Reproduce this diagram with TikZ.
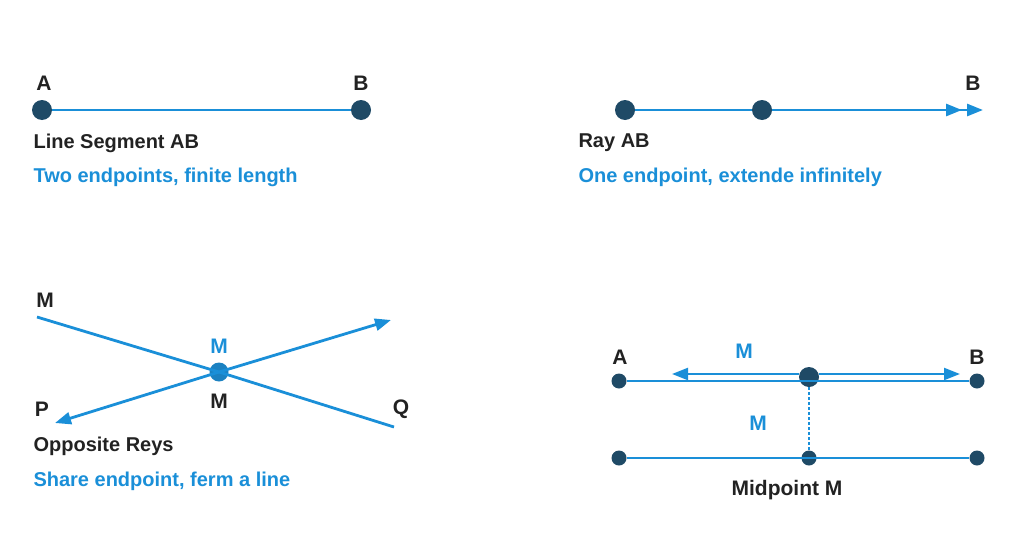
\documentclass[tikz,border=0pt]{standalone}
\usepackage{fontspec}
\setmainfont{Liberation Sans}
\usetikzlibrary{arrows.meta}
\definecolor{lb}{HTML}{1A8FD8}
\definecolor{dk}{HTML}{1F4A66}
\definecolor{tx}{HTML}{222222}
\tikzset{
 seg/.style={lb,line width=2.8pt},
 dot/.style={circle,fill=dk,inner sep=0pt,minimum size=20pt},
 sdot/.style={circle,fill=dk,inner sep=0pt,minimum size=15pt},
 lab/.style={font=\fontsize{21}{24}\selectfont\bfseries,text=tx},
 blab/.style={font=\fontsize{21}{24}\selectfont\bfseries,text=lb},
 captxt/.style={font=\fontsize{20}{24}\selectfont\bfseries,text=tx,anchor=west},
 bcaptxt/.style={font=\fontsize{20}{24}\selectfont\bfseries,text=lb,anchor=west},
 arr/.style={-{Triangle[length=16pt,width=12pt]}},
}
\begin{document}
\begin{tikzpicture}[x=1pt,y=-1pt]
\useasboundingbox (0,0) rectangle (1024,554);
% top left
\node[dot] (a1) at (42,110) {};
\node[dot] (b1) at (361,110) {};
\draw[seg] (a1) -- (b1);
\node[lab] (la1) at (44,83) {A};
\node[lab] (lb1) at (361,83) {B};
\node[captxt] (c1) at (30,143) {Line Segment AB};
\node[bcaptxt] (d1) at (30,177) {Two endpoints, finite length};
% top right
\node[dot] (a2) at (625,110) {};
\node[dot] (b2) at (762,110) {};
\coordinate (e2) at (983,110);
\coordinate (m2) at (962,110);
\draw[seg] (a2) -- (b2);
\draw[seg,arr] (b2) -- (m2);
\draw[seg,arr] (950,110) -- (e2);
\node[lab] (lb2) at (973,83) {B};
\node[captxt] (c2) at (575,143) {Ray AB};
\node[bcaptxt] (d2) at (575,177) {One endpoint, extende infinitely};
% bottom left
\node[circle,fill=lb!80!dk,inner sep=0pt,minimum size=19pt] (o) at (219,372) {};
\coordinate (m3) at (37,317);
\coordinate (q3) at (394,427);
\coordinate (p3) at (55,423);
\coordinate (r3) at (391,320);
\draw[seg] (m3) -- (o.center) -- (q3);
\draw[seg,arr] (o.center) -- (p3);
\draw[seg,arr] (o.center) -- (r3);
\node[lab] (lm) at (45,300) {M};
\node[blab] (lm2) at (219,346) {M};
\node[lab] (lm3) at (219,401) {M};
\node[lab] (lp) at (42,409) {P};
\node[lab] (lq) at (401,409) {Q};
\node[captxt] (c3) at (30,446) {Opposite Reys};
\node[bcaptxt] (d3) at (30,481) {Share endpoint, ferm a line};
% bottom right
\node[sdot] (a4) at (619,381) {};
\node[dot] (mm) at (809,377) {};
\node[sdot] (b4) at (977,381) {};
\draw[seg] (a4) -- (b4);
\coordinate (l4) at (672,374);
\coordinate (r4) at (960,374);
\draw[seg,line width=2.2pt,arr] (mm.center) ++(-10,-3) -- (l4);
\draw[seg,line width=2.2pt,arr] (mm.center) ++(10,-3) -- (r4);
\node[sdot] (a5) at (619,458) {};
\node[sdot] (m5) at (809,458) {};
\node[sdot] (b5) at (977,458) {};
\draw[seg] (a5) -- (b5);
\draw[lb,line width=2.2pt,densely dashed] (mm) -- (m5);
\node[lab] (la4) at (620,357) {A};
\node[lab] (lb4) at (977,357) {B};
\node[blab] (lm4) at (744,351) {M};
\node[blab] (lm5) at (758,423) {M};
\node[lab] (c4) at (787,490) {Midpoint M};
\end{tikzpicture}
\end{document}
